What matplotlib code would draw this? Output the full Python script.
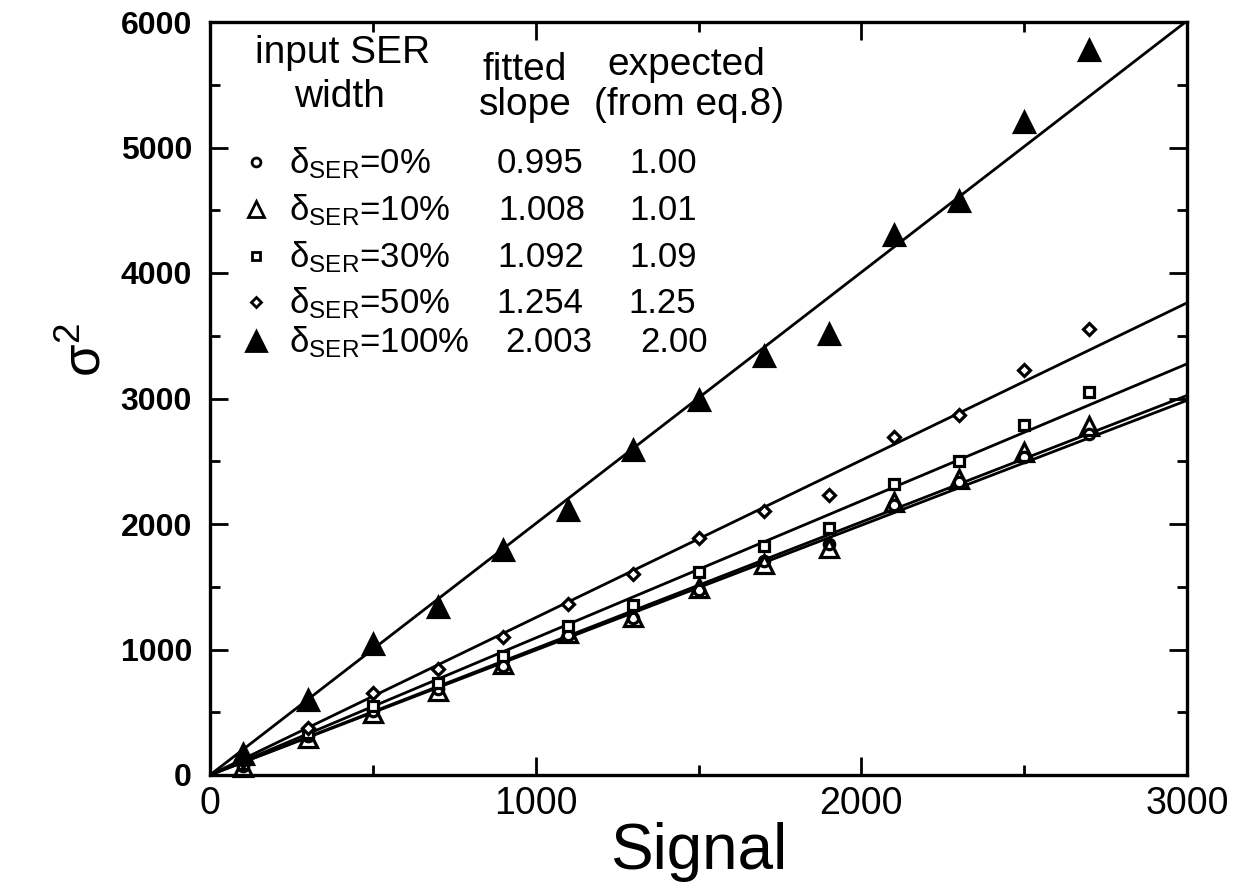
import numpy as np
import matplotlib
matplotlib.use("Agg")
import matplotlib.pyplot as plt
from matplotlib.ticker import MultipleLocator

plt.rcParams['font.family'] = ['Liberation Sans', 'DejaVu Sans']
plt.rcParams['mathtext.fontset'] = 'custom'
plt.rcParams['mathtext.rm'] = 'Liberation Sans'
plt.rcParams['mathtext.it'] = 'Liberation Sans:italic'
plt.rcParams['mathtext.bf'] = 'Liberation Sans:bold'

# ---------------- data ----------------
signal = [100, 300, 500, 700, 900, 1100, 1300, 1500, 1700, 1900, 2100, 2300, 2500, 2700]

var_0 = [70, 310, 510, 685, 868, 1116, 1249, 1478, 1707, 1840, 2155, 2337, 2533, 2721]
var_10 = [60, 295, 494, 669, 884, 1132, 1262, 1490, 1683, 1810, 2172, 2360, 2573, 2777]
var_30 = [90, 335, 550, 733, 948, 1190, 1352, 1620, 1827, 1967, 2315, 2505, 2790, 3050]
var_50 = [110, 375, 653, 845, 1100, 1365, 1600, 1885, 2100, 2230, 2690, 2865, 3225, 3550]
var_100 = [167, 600, 1040, 1340, 1790, 2110, 2590, 2985, 3335, 3510, 4305, 4570, 5200, 5780]

series_labels = ["0%", "10%", "30%", "50%", "100%"]
fitted_slope = ["0.995", "1.008", "1.092", "1.254", "2.003"]
expected_slope = ["1.00", "1.01", "1.09", "1.25", "2.00"]
slope_values = [0.995, 1.008, 1.092, 1.254, 2.003]

x_ticks = [0, 1000, 2000, 3000]
y_ticks = [0, 1000, 2000, 3000, 4000, 5000, 6000]

# ---------------- figure ----------------
W, H = 1244, 891
fig = plt.figure(figsize=(W / 100, H / 100), dpi=100)
ax = fig.add_axes([210 / W, 1 - 775 / H, (1187 - 210) / W, (775 - 22) / H])

all_series = [var_0, var_10, var_30, var_50, var_100]
markers = ['o', '^', 's', 'D', '^']
msizes = [7.5, 13, 7.5, 6, 14]
faces = ['white', 'none', 'white', 'white', 'black']

# fitted lines
xl = np.array([0, 3000])
for s in slope_values:
    ax.plot(xl, s * xl, color='black', lw=2.0, zorder=2)

for ys, m, ms, fc in zip(all_series, markers, msizes, faces):
    ax.plot(signal, ys, linestyle='none', marker=m, ms=ms, mfc=fc,
            mec='black', mew=2.3, zorder=3, clip_on=False)

ax.set_xlim(0, 3000)
ax.set_ylim(0, 6000)
ax.set_xticks(x_ticks)
ax.set_yticks(y_ticks)
ax.xaxis.set_minor_locator(MultipleLocator(500))
ax.yaxis.set_minor_locator(MultipleLocator(500))
ax.tick_params(which='both', direction='in', top=True, right=True, width=2)
ax.tick_params(which='major', length=13)
ax.tick_params(which='minor', length=7)
ax.tick_params(axis='x', labelsize=27, pad=8)
ax.tick_params(axis='y', labelsize=23, pad=13)
for lab in ax.get_yticklabels():
    lab.set_fontweight('bold')
for sp in ax.spines.values():
    sp.set_linewidth(2.4)

ax.set_xlabel("Signal", fontsize=46, labelpad=0)
fig.text(86 / W, 1 - 350 / H, "σ$^{2}$", fontsize=38, rotation=90,
         ha='center', va='center')

# ---------------- legend table ----------------
def ft(x, y, s, size, ha='left'):
    fig.text(x / W, 1 - y / H, s, fontsize=size, ha=ha, va='baseline')

hs = 28
ft(343, 63, "input SER", hs, 'center')
ft(340, 107, "width", hs, 'center')
ft(525, 80, "fitted", hs, 'center')
ft(525, 115, "slope", hs, 'center')
ft(686, 75, "expected", hs, 'center')
ft(689, 115, "(from eq.8)", hs, 'center')

row_base = [173, 220, 267, 313, 352]
fit_x = [497, 498, 497, 496, 505]
exp_x = [629, 629, 629, 628, 640]
rs = 25
for i in range(5):
    yb = row_base[i]
    ft(289, yb, "δ$_{\\rm SER}$=" + series_labels[i], rs)
    ft(fit_x[i], yb, fitted_slope[i], rs)
    ft(exp_x[i], yb, expected_slope[i], rs)
    ax.plot([256 / W], [1 - (yb - 11) / H], transform=fig.transFigure,
            marker=markers[i], ms=(msizes[i] * 0.85 if i < 4 else msizes[i]),
            mfc=faces[i], mec='black', mew=2.0, linestyle='none', clip_on=False)

fig.savefig("out.png", dpi=100)
